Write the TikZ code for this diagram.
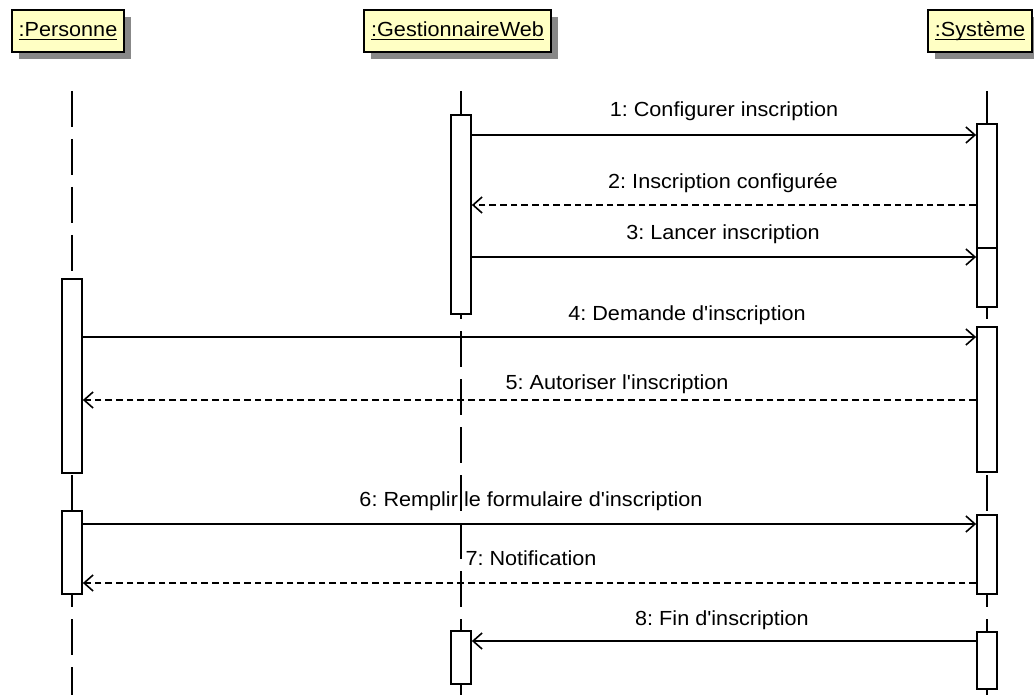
\documentclass[tikz,border=0pt]{standalone}
\usepackage{fontspec}
\newfontfamily\labfont{Liberation Sans}[FakeStretch=1.06]
\usetikzlibrary{arrows.meta,shadows}
\definecolor{headfill}{RGB}{255,255,196}
\definecolor{headshadow}{RGB}{136,136,136}
% underline at a fixed depth below the baseline
\newcommand\ulbox[1]{\setbox0\hbox{#1}\rlap{\rule[-3pt]{\wd0}{1pt}}\box0}
\frenchspacing

\begin{document}
\begin{tikzpicture}[x=0.75pt,y=-0.75pt,
  every node/.style={font=\labfont\fontsize{15.3pt}{18pt}\selectfont},
  head/.style={draw=black,line width=1.2pt,fill=headfill,minimum height=31.5pt,inner sep=0pt,
    drop shadow={shadow xshift=5.25pt,shadow yshift=-5.25pt,fill=headshadow,opacity=1}},
  life/.style={line width=1.2pt,dash pattern=on 27pt off 9pt},
  act/.style={draw=black,fill=white,line width=1.3pt,minimum width=15pt,inner sep=0pt,anchor=north},
  call/.style={line width=1.2pt,-{Straight Barb[length=6.75pt,width=12pt,line width=1.2pt]}},
  reply/.style={call,dash pattern=on 5pt off 3pt},
  lbl/.style={anchor=base,inner sep=0pt}]
\useasboundingbox (0,0) rectangle (1034,695);

% object headers
\node[head,minimum width=84pt]     (hP) at (68,31)    {\ulbox{:Personne}};
\node[head,minimum width=140.25pt] (hG) at (457.5,31) {\ulbox{:GestionnaireWeb}};
\node[head,minimum width=78pt]     (hS) at (980,31)   {\ulbox{:Système}};

% lifelines
\coordinate (tP) at (72,91);  \coordinate (bP) at (72,695);
\coordinate (tG) at (461,91); \coordinate (bG) at (461,695);
\coordinate (tS) at (987,91); \coordinate (bS) at (987,695);
\draw[life] (tP) -- (bP);
\draw[life] (tG) -- (bG);
\draw[life] (tS) -- (bS);

% activation bars
\node[act,minimum height=145.5pt]  (P1)  at (72,278)  {};
\node[act,minimum height=62.25pt]  (P2)  at (72,510)  {};
\node[act,minimum height=149.25pt] (G1)  at (461,114) {};
\node[act,minimum height=39.75pt]  (G2)  at (461,630) {};
\node[act,minimum height=93pt]     (S1a) at (987,123) {};
\node[act,minimum height=44.25pt]  (S1b) at (987,247) {};
\node[act,minimum height=108.75pt] (S2)  at (987,326) {};
\node[act,minimum height=59.25pt]  (S3)  at (987,514) {};
\node[act,minimum height=42.75pt]  (S4)  at (987,631) {};

% message levels
\coordinate (m1) at (0,135);
\coordinate (m2) at (0,205);
\coordinate (m3) at (0,257);
\coordinate (m4) at (0,337);
\coordinate (m5) at (0,400);
\coordinate (m6) at (0,524);
\coordinate (m7) at (0,583);
\coordinate (m8) at (0,641);

% messages
\draw[call]  (G1.east |- m1) -- (S1a.west |- m1);
\draw[reply] (S1a.west |- m2) -- (G1.east |- m2);
\draw[call]  (G1.east |- m3) -- (S1b.west |- m3);
\draw[call]  (P1.east |- m4) -- (S2.west |- m4);
\draw[reply] (S2.west |- m5) -- (P1.east |- m5);
\draw[call]  (P2.east |- m6) -- (S3.west |- m6);
\draw[reply] (S3.west |- m7) -- (P2.east |- m7);
\draw[call]  (S4.west |- m8) -- (G2.east |- m8);

% message labels
\node[lbl] (l1) at (724,117) {1: Configurer inscription};
\node[lbl] (l2) at (723,189) {2: Inscription configurée};
\node[lbl] (l3) at (723,239) {3: Lancer inscription};
\node[lbl] (l4) at (687,320) {4: Demande d'inscription};
\node[lbl] (l5) at (617,389) {5: Autoriser l'inscription};
\node[lbl] (l6) at (531,506) {6: Remplir le formulaire d'inscription};
\node[lbl] (l7) at (531,565) {7: Notification};
\node[lbl] (l8) at (722,625) {8: Fin d'inscription};
\end{tikzpicture}
\end{document}
